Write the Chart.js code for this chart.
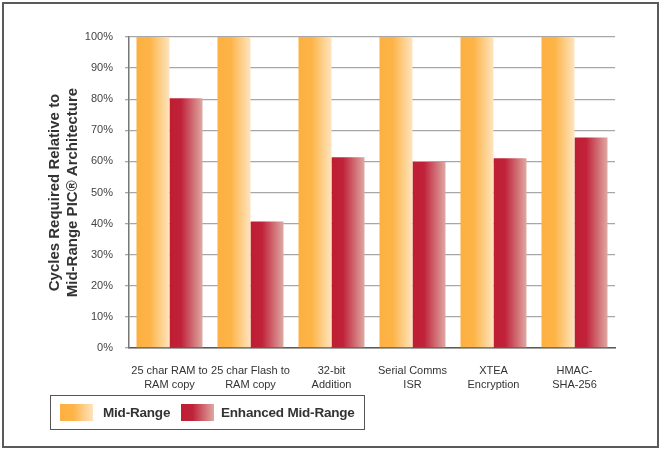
<!DOCTYPE html>
<html>
<head>
<meta charset="utf-8">
<script src="https://cdn.jsdelivr.net/npm/chart.js@4/dist/chart.umd.min.js"></script>
<style>
  html, body { margin: 0; padding: 0; background: #fff; }
  #wrap { position: relative; width: 660px; height: 450px; }
  #frame { position: absolute; left: 2px; top: 2px; width: 653px; height: 442px; border: 2px solid #5a5a5a; box-sizing: content-box; pointer-events: none; }
  #legend { position: absolute; left: 50px; top: 395px; width: 315px; height: 35px; border: 1.5px solid #555; box-sizing: border-box;
            font-family: "Liberation Sans", Arial, sans-serif; font-weight: bold; font-size: 13.5px; letter-spacing: -0.2px; color: #333; }
  #legend .sw { position: absolute; top: 8px; width: 33px; height: 17px; }
  #legend .lb { position: absolute; top: 8px; line-height: 17px; white-space: nowrap; }
</style>
</head>
<body>
<div id="wrap">
  <canvas id="grafico"></canvas>
  <div id="frame"></div>
  <div id="legend"></div>
</div>
<script>
// datos del grafico
var categorias = [
  ['25 char RAM to', 'RAM copy'],
  ['25 char Flash to', 'RAM copy'],
  ['32-bit', 'Addition'],
  ['Serial Comms', 'ISR'],
  ['XTEA', 'Encryption'],
  ['HMAC-', 'SHA-256']
];
var midRange = [100, 100, 100, 100, 100, 100];
var enhancedMidRange = [80.3, 40.7, 61.3, 59.8, 61, 67.7];
var nombresSeries = ['Mid-Range', 'Enhanced Mid-Range'];
var ticksY = [0, 10, 20, 30, 40, 50, 60, 70, 80, 90, 100];

var CAT_PCT = 0.815;

// colores de degradado: izquierda solido, derecha claro
var degradados = [
  [[0, '#fdb042'], [0.4, '#fdb447'], [1, '#fee4bf']],
  [[0, '#bf1e31'], [0.35, '#c0223a'], [1, '#dea9a2']]
];

function colorBarra(context) {
  var chart = context.chart;
  var stops = degradados[context.datasetIndex];
  var area = chart.chartArea;
  if (!area || !chart.scales.x) return stops[0][1];
  var cx = chart.scales.x.getPixelForValue(context.dataIndex);
  var mitad = (area.right - area.left) / categorias.length * CAT_PCT / 2;
  var x0 = context.datasetIndex === 0 ? cx - mitad : cx;
  var g = chart.ctx.createLinearGradient(x0, 0, x0 + mitad, 0);
  stops.forEach(function (s) { g.addColorStop(s[0], s[1]); });
  return g;
}

// leyenda en html
var leyenda = document.getElementById('legend');
var posiciones = [[9, 52], [130, 170]];
nombresSeries.forEach(function (nombre, i) {
  var css = degradados[i].map(function (s) { return s[1] + ' ' + (s[0] * 100) + '%'; }).join(', ');
  var sw = document.createElement('div');
  sw.className = 'sw';
  sw.style.left = posiciones[i][0] + 'px';
  sw.style.background = 'linear-gradient(to right, ' + css + ')';
  leyenda.appendChild(sw);
  var lb = document.createElement('div');
  lb.className = 'lb';
  lb.style.left = posiciones[i][1] + 'px';
  lb.textContent = nombre;
  leyenda.appendChild(lb);
});

var ctx = document.getElementById('grafico');
var miGrafico = new Chart(ctx, {
  type: 'bar',
  data: {
    labels: categorias,
    datasets: [
      { label: nombresSeries[0], data: midRange, backgroundColor: colorBarra, borderWidth: 0 },
      { label: nombresSeries[1], data: enhancedMidRange, backgroundColor: colorBarra, borderWidth: 0 }
    ]
  },
  options: {
    responsive: true,
    maintainAspectRatio: false,
    animation: false,
    datasets: { bar: { categoryPercentage: CAT_PCT, barPercentage: 1.0 } },
    layout: { padding: { left: 46, right: 45, top: 37, bottom: 57 } },
    plugins: { legend: { display: false }, tooltip: { enabled: false } },
    scales: {
      x: {
        grid: { display: false },
        border: { color: '#5a5a5a', width: 1.5 },
        ticks: {
          color: '#333',
          padding: 8,
          maxRotation: 0,
          autoSkip: false,
          font: { family: '"Liberation Sans", Arial, sans-serif', size: 11, lineHeight: 1.27 }
        },
        afterFit: function (scale) { scale.height = 45; }
      },
      y: {
        min: 0,
        max: 100,
        z: 1,
        afterBuildTicks: function (scale) {
          scale.ticks = ticksY.map(function (v) { return { value: v }; });
        },
        ticks: {
          color: '#444',
          padding: 12,
          callback: function (v) { return v + '%'; },
          font: { family: '"Liberation Sans", Arial, sans-serif', size: 11 }
        },
        grid: { color: 'rgba(80,80,80,0.5)', lineWidth: 1.3, tickLength: 4 },
        border: { color: '#777', width: 1.5 },
        title: {
          display: true,
          text: ['Cycles Required Relative to', 'Mid-Range PIC\u00ae Architecture'],
          color: '#333',
          padding: 0,
          font: { family: '"Liberation Sans", Arial, sans-serif', size: 15, weight: 'bold', lineHeight: 1.2 }
        },
        afterFit: function (scale) { scale.width = 83; }
      }
    }
  }
});
</script>
</body>
</html>
